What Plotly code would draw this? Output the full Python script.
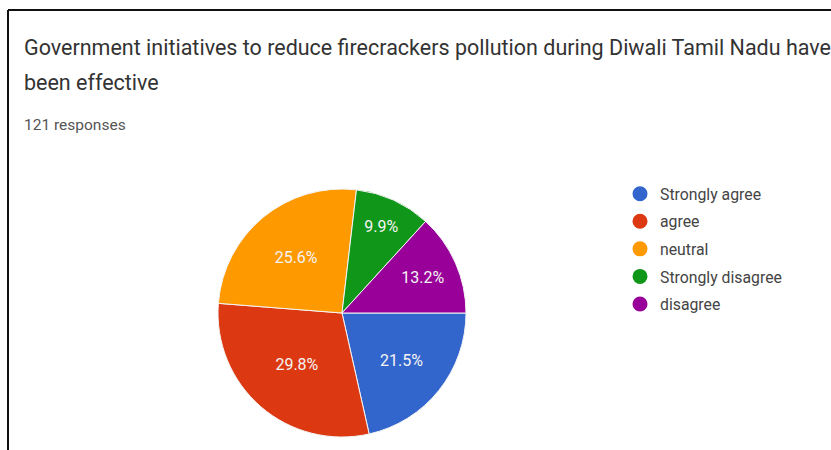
import plotly.graph_objects as go

# Survey answers (121 responses)
labels = ["Strongly agree", "agree", "neutral", "Strongly disagree", "disagree"]
counts = [26, 36, 31, 12, 16]
colors = ["#3366cc", "#dc3912", "#ff9900", "#109618", "#990099"]

title_line1 = "Government initiatives to reduce firecrackers pollution during Diwali Tamil Nadu have"
title_line2 = "been effective"
subtitle = f"{sum(counts)} responses"

W, H = 831, 450
cx, cy, r = 342, 313, 124  # pie centre / radius in pixels

fig = go.Figure()

fig.add_trace(go.Pie(
    labels=labels,
    values=counts,
    sort=False,
    direction="clockwise",
    rotation=90,
    marker=dict(colors=colors, line=dict(color="#f4f4f4", width=1)),
    texttemplate="%{percent:.1%}",
    textposition="inside",
    insidetextorientation="horizontal",
    textfont=dict(family="Roboto", size=16, color="#f4f4f4"),
    showlegend=False,
    hoverinfo="label+percent",
    domain=dict(x=[(cx - r) / W, (cx + r) / W],
                y=[(H - cy - r) / H, (H - cy + r) / H]),
))

# Circular legend markers, one entry per answer
for i, (lab, col) in enumerate(zip(labels, colors)):
    fig.add_trace(go.Scatter(
        x=[None], y=[None], mode="markers", name=lab,
        legendgroup=f"g{i}",
        marker=dict(color=col, size=15, symbol="circle"),
    ))

fig.update_layout(
    width=W, height=H,
    margin=dict(l=0, r=0, t=0, b=0),
    paper_bgcolor="white",
    plot_bgcolor="white",
    xaxis=dict(visible=False),
    yaxis=dict(visible=False),
    legend=dict(
        x=620 / W, y=1 - 177 / H, xanchor="left", yanchor="top",
        font=dict(family="Roboto", size=15.8, color="#444"),
        tracegroupgap=4,
        bgcolor="rgba(0,0,0,0)",
    ),
    annotations=[
        dict(text=title_line1, x=22 / W, y=1 - 47 / H, xref="paper", yref="paper",
             xanchor="left", yanchor="middle", showarrow=False,
             font=dict(family="Roboto", size=21.5, color="#333")),
        dict(text=title_line2, x=22 / W, y=1 - 83 / H, xref="paper", yref="paper",
             xanchor="left", yanchor="middle", showarrow=False,
             font=dict(family="Roboto", size=21.5, color="#333")),
        dict(text=subtitle, x=22 / W, y=1 - 125 / H, xref="paper", yref="paper",
             xanchor="left", yanchor="middle", showarrow=False,
             font=dict(family="Roboto", size=15.5, color="#555")),
    ],
    shapes=[
        dict(type="line", xref="paper", yref="paper",
             x0=8 / W, x1=1, y0=1 - 10 / H, y1=1 - 10 / H,
             line=dict(color="#111", width=2)),
        dict(type="line", xref="paper", yref="paper",
             x0=8 / W, x1=8 / W, y0=0, y1=1 - 10 / H,
             line=dict(color="#111", width=2)),
    ],
)

fig.write_html("out.html")
